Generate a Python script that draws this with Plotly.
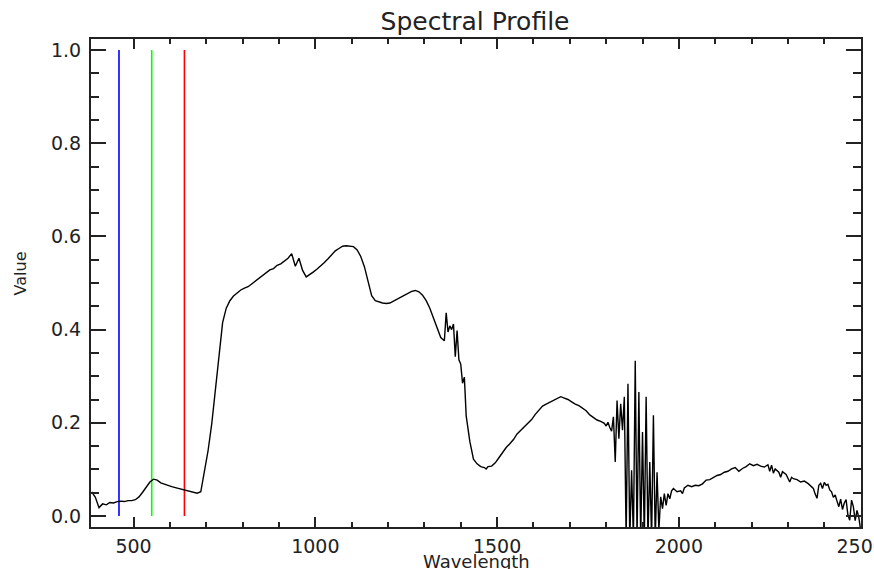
import plotly.graph_objects as go

# Spectrum: wavelength (nm) and value
wavelength = [
    385, 395, 405, 415, 425, 435, 445, 455, 465, 475, 485, 495,
    505, 515, 525, 535, 545, 555, 565, 575, 585, 595, 605, 615, 625, 635, 645, 655, 665, 675, 685, 695,
    705, 715, 725, 735, 745, 755, 765, 775, 785, 795, 805, 815, 825, 835, 845, 855, 865, 875, 885, 895,
    905, 915, 925, 935, 945, 955, 965, 975, 985, 995,
    1005, 1015, 1025, 1035, 1045, 1055, 1065, 1075, 1085, 1095, 1105, 1115, 1125, 1135, 1145, 1155,
    1165, 1175, 1185, 1195, 1205, 1215, 1225, 1235, 1245, 1255, 1265, 1275, 1285, 1295, 1305, 1315,
    1325, 1335, 1345, 1355, 1360, 1365, 1370, 1375, 1380, 1385, 1390, 1395, 1400, 1405, 1410, 1415,
    1425, 1435, 1445, 1455, 1465, 1470, 1475, 1485, 1495,
    1505, 1515, 1525, 1535, 1545, 1555, 1565, 1575, 1585, 1595, 1605, 1615, 1625, 1635, 1645, 1655,
    1665, 1675, 1685, 1695, 1705, 1715, 1725, 1735, 1745, 1755, 1765, 1775, 1785, 1795,
    1800, 1805, 1810, 1815, 1820, 1825, 1830, 1835, 1840, 1845, 1850, 1855, 1860, 1865, 1870, 1875,
    1880, 1885, 1890, 1895, 1900, 1905, 1910, 1915, 1920, 1925, 1930, 1935, 1940, 1945, 1950, 1955,
    1960, 1965, 1970, 1975, 1980, 1985, 1995,
    2005, 2010, 2015, 2025, 2035, 2045, 2055, 2065, 2075, 2085, 2095, 2105, 2115, 2125, 2135, 2145,
    2155, 2165, 2175, 2185, 2195, 2205, 2215, 2225, 2235, 2245, 2250, 2255, 2260, 2265, 2275, 2280,
    2285, 2295, 2305, 2310, 2315, 2325, 2335, 2345, 2355, 2365, 2370, 2375, 2380, 2385, 2390, 2395,
    2400, 2405, 2410, 2415, 2420, 2425, 2430, 2435, 2440, 2445, 2450, 2455, 2460, 2465, 2470, 2475,
    2480, 2485, 2490, 2495, 2500,
]
value = [
    0.052, 0.040, 0.018, 0.026, 0.024, 0.029, 0.028, 0.031, 0.032, 0.031, 0.033, 0.033,
    0.035, 0.041, 0.051, 0.063, 0.073, 0.079, 0.077, 0.071, 0.068, 0.066, 0.063, 0.061, 0.059, 0.056, 0.054, 0.052, 0.050, 0.049, 0.052, 0.092,
    0.140, 0.197, 0.270, 0.352, 0.415, 0.446, 0.462, 0.472, 0.479, 0.485, 0.489, 0.492, 0.498, 0.504, 0.512, 0.518, 0.522, 0.528, 0.531, 0.538,
    0.541, 0.548, 0.553, 0.563, 0.536, 0.553, 0.527, 0.513, 0.518, 0.524,
    0.530, 0.536, 0.544, 0.552, 0.561, 0.569, 0.574, 0.579, 0.580, 0.579, 0.578, 0.571, 0.557, 0.535, 0.503, 0.473,
    0.462, 0.459, 0.457, 0.456, 0.457, 0.461, 0.465, 0.470, 0.474, 0.478, 0.482, 0.484, 0.481, 0.474, 0.462, 0.446,
    0.426, 0.402, 0.383, 0.376, 0.436, 0.395, 0.408, 0.400, 0.412, 0.342, 0.398, 0.335, 0.326, 0.285, 0.298, 0.215,
    0.160, 0.122, 0.112, 0.106, 0.104, 0.101, 0.106, 0.107, 0.114,
    0.125, 0.137, 0.147, 0.155, 0.164, 0.176, 0.184, 0.192, 0.200, 0.207, 0.218, 0.228, 0.236, 0.240, 0.244, 0.249,
    0.253, 0.256, 0.253, 0.250, 0.245, 0.240, 0.237, 0.231, 0.226, 0.217, 0.211, 0.206, 0.203, 0.199,
    0.193, 0.201, 0.190, 0.182, 0.213, 0.116, 0.248, 0.166, 0.241, 0.184, 0.256, -0.050, 0.284, -0.050, 0.098, -0.050,
    0.333, -0.050, 0.266, -0.050, 0.180, -0.050, 0.256, -0.050, 0.116, -0.050, 0.216, -0.050, 0.094, -0.030, 0.041, 0.016,
    0.048, 0.023, 0.048, 0.037, 0.054, 0.059, 0.052,
    0.054, 0.048, 0.060, 0.066, 0.063, 0.066, 0.065, 0.069, 0.077, 0.078, 0.083, 0.087, 0.089, 0.094, 0.096, 0.101,
    0.104, 0.096, 0.102, 0.106, 0.112, 0.108, 0.111, 0.107, 0.105, 0.110, 0.096, 0.109, 0.092, 0.101, 0.094, 0.083,
    0.095, 0.089, 0.073, 0.083, 0.080, 0.078, 0.073, 0.075, 0.070, 0.064, 0.059, 0.047, 0.038, 0.066, 0.070, 0.059,
    0.072, 0.066, 0.068, 0.056, 0.052, 0.040, 0.045, 0.032, 0.020, 0.036, 0.014, 0.028, 0.035, 0.002, -0.009, 0.034,
    0.020, -0.010, 0.012, -0.003, -0.030,
]

# RGB band marker lines
band_wavelength = [460, 550, 640]
band_color = ["#0000ff", "#00ff00", "#ff0000"]
band_low = [0.0, 0.0, 0.0]
band_high = [1.0, 1.0, 1.0]

x_major_ticks = [500, 1000, 1500, 2000, 2500]
x_minor_ticks = [600, 700, 800, 900, 1100, 1200, 1300, 1400, 1600, 1700, 1800, 1900,
                 2100, 2200, 2300, 2400]
y_major_ticks = [0.0, 0.2, 0.4, 0.6, 0.8, 1.0]
y_tick_labels = ["0.0", "0.2", "0.4", "0.6", "0.8", "1.0"]

FONT = "DejaVu Sans"
INK = "#222222"

fig = go.Figure()
for wl, col, lo, hi in zip(band_wavelength, band_color, band_low, band_high):
    fig.add_trace(go.Scatter(x=[wl, wl], y=[lo, hi], mode="lines",
                             line=dict(color=col, width=1.6), showlegend=False,
                             hoverinfo="skip"))
fig.add_trace(go.Scatter(x=wavelength, y=value, mode="lines",
                         line=dict(color="black", width=1.4), showlegend=False))

fig.update_layout(
    width=874, height=569,
    margin=dict(l=91, r=13, t=39, b=42, autoexpand=False),
    paper_bgcolor="white", plot_bgcolor="white",
    font=dict(family=FONT, size=19, color=INK),
    title=dict(text="Spectral Profile", x=0.5435, xanchor="center",
               y=1 - 21 / 569, yanchor="middle",
               font=dict(family=FONT, size=25, color=INK)),
    showlegend=False,
)
fig.update_xaxes(
    range=[383, 2501], showgrid=False, zeroline=False, automargin=False,
    showline=True, linecolor=INK, linewidth=2, mirror="allticks",
    ticks="inside", ticklen=10, tickwidth=2, tickcolor=INK,
    tickmode="array", tickvals=x_major_ticks,
    ticktext=[str(v) for v in x_major_ticks],
    minor=dict(tickmode="array", tickvals=x_minor_ticks, ticks="inside",
               ticklen=5, tickwidth=2, tickcolor=INK, showgrid=False),
    ticklabelstandoff=1, ticklabeloverflow="allow",
)
fig.update_yaxes(
    range=[-0.0236, 1.0236], showgrid=False, zeroline=False, automargin=False,
    showline=True, linecolor=INK, linewidth=2, mirror="allticks",
    ticks="inside", ticklen=15, tickwidth=2, tickcolor=INK,
    tickmode="array", tickvals=y_major_ticks, ticktext=y_tick_labels,
    minor=dict(dtick=0.05, ticks="inside", ticklen=8, tickwidth=2,
               tickcolor=INK, showgrid=False),
    ticklabelstandoff=4, ticklabeloverflow="allow",
)
fig.add_annotation(text="Wavelength", xref="paper", yref="paper",
                   x=0.5, y=-0.045, xanchor="center", yanchor="top",
                   showarrow=False, font=dict(family=FONT, size=18, color=INK))
fig.add_annotation(text="Value", xref="paper", yref="paper",
                   x=-0.092, y=0.52, xanchor="center", yanchor="middle",
                   textangle=-90, showarrow=False,
                   font=dict(family=FONT, size=16, color=INK))

fig.write_html(
    "out.html",
    config={"displayModeBar": False},
    post_script="document.body.style.margin='0';document.body.style.overflow='hidden';",
)
